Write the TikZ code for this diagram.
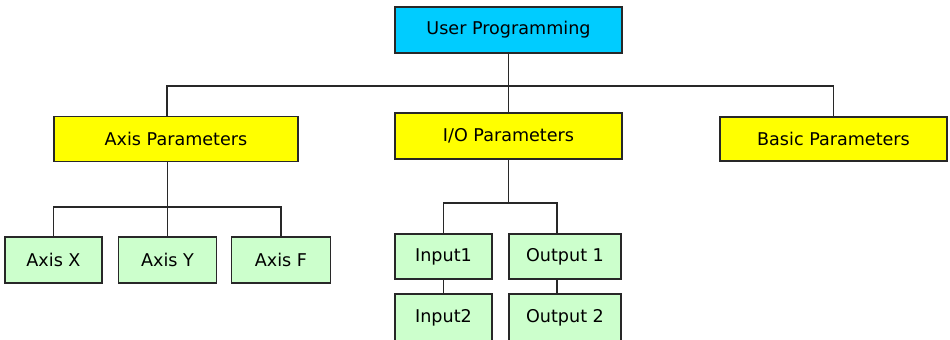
\documentclass[tikz,border=0pt]{standalone}
\usepackage{fontspec}
\setmainfont{DejaVu Sans}
\usepackage{xcolor}
\definecolor{topblue}{RGB}{0,204,255}
\definecolor{paryellow}{RGB}{255,255,0}
\definecolor{leafgreen}{RGB}{204,255,204}
\definecolor{edgegray}{RGB}{40,40,40}

\tikzset{
    box/.style={draw=edgegray, line width=1.1pt, inner sep=0pt,
        font=\fontsize{12.5}{15}\selectfont, text=black},
    rootbox/.style={box, fill=topblue, minimum width=56.75mm, minimum height=11.5mm},
    groupbox/.style={box, fill=paryellow, minimum width=56.75mm, minimum height=11.25mm},
    leafbox/.style={box, fill=leafgreen, minimum width=24.25mm, minimum height=11.5mm},
    link/.style={draw=edgegray, line width=1pt}
}

\begin{document}
\begin{tikzpicture}[x=0.25mm, y=-0.25mm]
    % --- frame (pixel grid, y downwards) ---
    \useasboundingbox (0,0) rectangle (950,339);
    \clip (0,0) rectangle (950,339);

    % --- top level ---
    \node[rootbox] (user) at (508.5,30) {User Programming};

    % --- parameter groups ---
    \node[groupbox, minimum width=61mm] (axis) at (176,139) {Axis Parameters};
    \node[groupbox, minimum height=11.5mm] (io) at (508.5,136) {I/O Parameters};
    \node[groupbox, minimum height=11mm] (basic) at (833.5,139) {Basic Parameters};

    % --- axis leaves ---
    \node[leafbox] (axisx) at (53.5,260) {Axis X};
    \node[leafbox, minimum width=24.5mm] (axisy) at (167.5,260) {Axis Y};
    \node[leafbox, minimum width=24.75mm] (axisf) at (281,260) {Axis F};

    % --- I/O leaves ---
    \node[leafbox, minimum height=11.25mm] (in1) at (443.5,256.5) {Input1};
    \node[leafbox, minimum height=11.25mm, minimum width=28mm] (out1) at (565,256.5) {Output 1};
    \node[leafbox, minimum height=11.75mm] (in2) at (443.5,317.5) {Input2};
    \node[leafbox, minimum height=11.75mm, minimum width=28mm] (out2) at (565,317.5) {Output 2};

    % --- bus under the top box ---
    \coordinate (busl) at (167,86);
    \coordinate (busr) at (833.5,86);
    \draw[link] (user) -- (io);
    \draw[link] (busl |- axis.north) -- (busl) -- (busr) -- (basic);

    % --- axis branch ---
    \coordinate (axisbus) at (167.5,207);
    \draw[link] (axisy.north |- axis.south) -- (axisy);
    \draw[link] (axisx) |- (axisbus) -| (axisf);

    % --- I/O branch ---
    \coordinate (iol) at (443.5,203);
    \coordinate (ior) at (557,203);
    \draw[link] (io) -- (io.south |- iol);
    \draw[link] (in1) |- (ior) -- (ior |- out1.north);
    \draw[link] (in1) -- (in2);
    \draw[link] (ior |- out1.south) -- (ior |- out2.north);
\end{tikzpicture}
\end{document}
